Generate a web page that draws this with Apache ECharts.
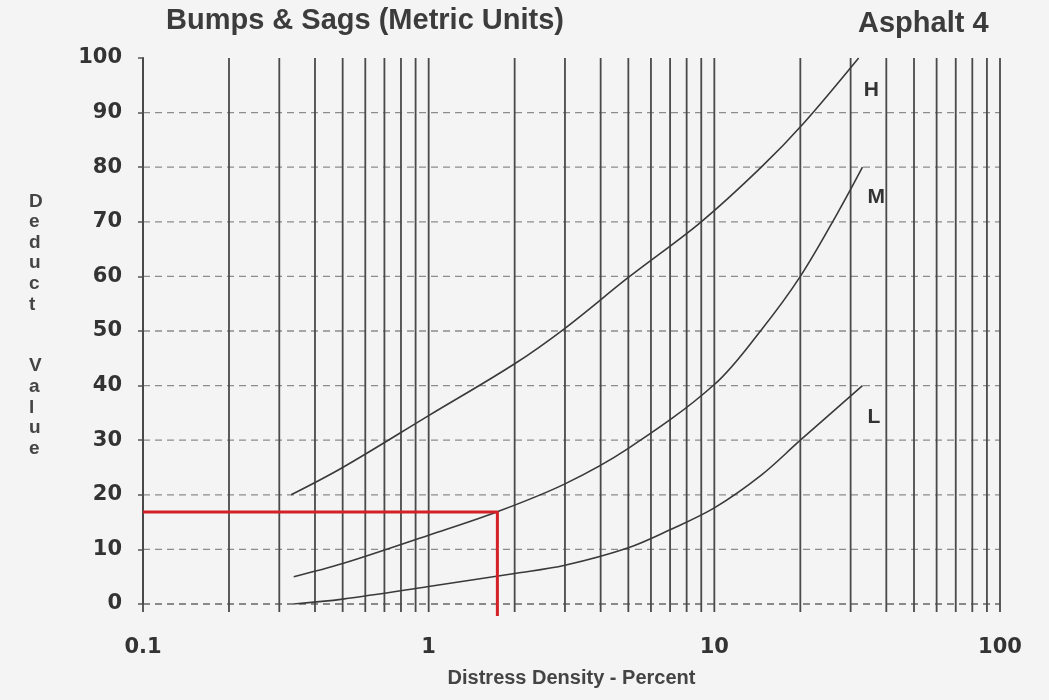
<!DOCTYPE html>
<html>
<head>
<meta charset="utf-8">
<script src="https://cdn.jsdelivr.net/npm/echarts@6/dist/echarts.min.js"></script>
<style>
html,body{margin:0;padding:0;background:#f3f4f3;}
#c{width:1049px;height:700px;}
</style>
</head>
<body>
<div id="c"></div>
<script>
// ---- data ----
const titleText = 'Bumps & Sags (Metric Units)';
const subText = 'Asphalt 4';
const xTickLabels = ['0.1', '1', '10', '100'];
const yTicks = [0, 10, 20, 30, 40, 50, 60, 70, 80, 90, 100];
const gridX = [0.1,0.2,0.3,0.4,0.5,0.6,0.7,0.8,0.9,1,2,3,4,5,6,7,8,9,10,20,30,40,50,60,70,80,90,100];
const gridY = [0,10,20,30,40,50,60,70,80,90];

const hX = [0.33, 0.5, 1, 2, 3, 5, 9, 14.6, 20.5, 32];
const hY = [20, 25, 34.5, 44, 50.5, 59.8, 70, 80, 88, 100];

const mX = [0.337, 0.5, 1, 1.74, 3, 5, 10, 14.6, 20, 27, 33];
const mY = [5, 7.4, 12.6, 16.9, 22, 28.5, 40.2, 50.2, 60, 71.6, 80];

const lX = [0.337, 0.5, 1, 2, 3, 5, 7, 10, 14.6, 20, 33];
const lY = [0, 0.9, 3.2, 5.6, 7.1, 10.3, 13.6, 17.6, 23.6, 30, 40];

const redX = [0.1, 1.74, 1.74];
const redY = [16.85, 16.85, -2.2];

const zip = (xs, ys) => xs.map((x, i) => [x, ys[i]]);

const chart = echarts.init(document.getElementById('c'), null, {renderer: 'canvas'});

const curveStyle = {color: '#3a3a3a', width: 1.6};
const endLbl = (t, dy) => ({
  show: true, formatter: t, offset: [-3, dy],
  fontFamily: 'Liberation Sans', fontWeight: 'bold', fontSize: 21, color: '#333'
});

chart.setOption({
  backgroundColor: '#f3f4f3',
  animation: false,
  title: [
    {text: titleText, left: 161, top: 1,
     textStyle: {fontFamily: 'Liberation Sans', fontWeight: 'bold', fontSize: 29, color: '#3c3c3c'}},
    {text: subText, left: 853, top: 4,
     textStyle: {fontFamily: 'Liberation Sans', fontWeight: 'bold', fontSize: 29, color: '#3c3c3c'}}
  ],
  graphic: [{
    type: 'text', left: 29, top: 191,
    style: {
      text: 'D\ne\nd\nu\nc\nt\n\n\nV\na\nl\nu\ne',
      fontFamily: 'Liberation Sans', fontWeight: 'bold', fontSize: 19,
      lineHeight: 20.6, fill: '#444', align: 'center'
    }
  }],
  grid: {left: 143, right: 49, top: 58, bottom: 96},
  xAxis: {
    type: 'log', logBase: 10, min: 0.1, max: 100,
    axisLine: {show: false},
    axisTick: {show: false},
    splitLine: {show: false},
    axisLabel: {
      margin: 33, fontFamily: 'DejaVu Sans', fontWeight: 'bold', fontSize: 21, color: '#333',
      formatter: v => { const s = xTickLabels.find(t => Math.abs(parseFloat(t) - v) < 1e-9 * Math.max(1, v)); return s || ''; }
    },
    name: 'Distress Density - Percent', nameLocation: 'middle', nameGap: 64,
    nameTextStyle: {fontFamily: 'Liberation Sans', fontWeight: 'bold', fontSize: 20, color: '#444'}
  },
  yAxis: {
    type: 'value', min: 0, max: 100, interval: 10,
    axisLine: {show: true, lineStyle: {color: '#3f3f3f', width: 2}},
    axisTick: {show: true, inside: false, length: 5, lineStyle: {color: '#555', width: 1.5}},
    splitLine: {show: false},
    axisLabel: {margin: 21, fontFamily: 'DejaVu Sans', fontWeight: 'bold', fontSize: 21, color: '#333',
      formatter: v => yTicks.includes(v) ? String(v) : ''}
  },
  series: [
    {
      type: 'custom', silent: true, z: 1,
      data: gridY.map(y => [0.1, y]),
      renderItem: (params, api) => {
        const y = api.value(1);
        const p1 = api.coord([0.1, y]);
        const p2 = api.coord([100, y]);
        return {type: 'line', shape: {x1: p1[0], y1: p1[1], x2: p2[0], y2: p2[1]},
          style: {stroke: y === 0 ? '#666' : '#8c8c8c', lineWidth: y === 0 ? 1.6 : 1.3, lineDash: [7, 5]}};
      }
    },
    {
      type: 'custom', silent: true, z: 2,
      data: gridX.map(x => [x, 0]),
      renderItem: (params, api) => {
        const x = api.value(0);
        const p1 = api.coord([x, 100]);
        const p2 = api.coord([x, 0]);
        return {type: 'line', shape: {x1: p1[0], y1: p1[1], x2: p2[0], y2: p2[1] + 8},
          style: {stroke: '#4a4a4a', lineWidth: 1.8}};
      }
    },
    {type: 'line', name: 'H', data: zip(hX, hY), smooth: 0.35, showSymbol: false,
     lineStyle: curveStyle, z: 5, endLabel: endLbl('H', 32)},
    {type: 'line', name: 'M', data: zip(mX, mY), smooth: 0.35, showSymbol: false,
     lineStyle: curveStyle, z: 5, endLabel: endLbl('M', 30)},
    {type: 'line', name: 'L', data: zip(lX, lY), smooth: 0.35, showSymbol: false,
     lineStyle: curveStyle, z: 5, endLabel: endLbl('L', 32)},
    {type: 'line', name: 'reading', data: zip(redX, redY), showSymbol: false, clip: false,
     lineStyle: {color: '#d42026', width: 3}, z: 6}
  ]
});
</script>
</body>
</html>
